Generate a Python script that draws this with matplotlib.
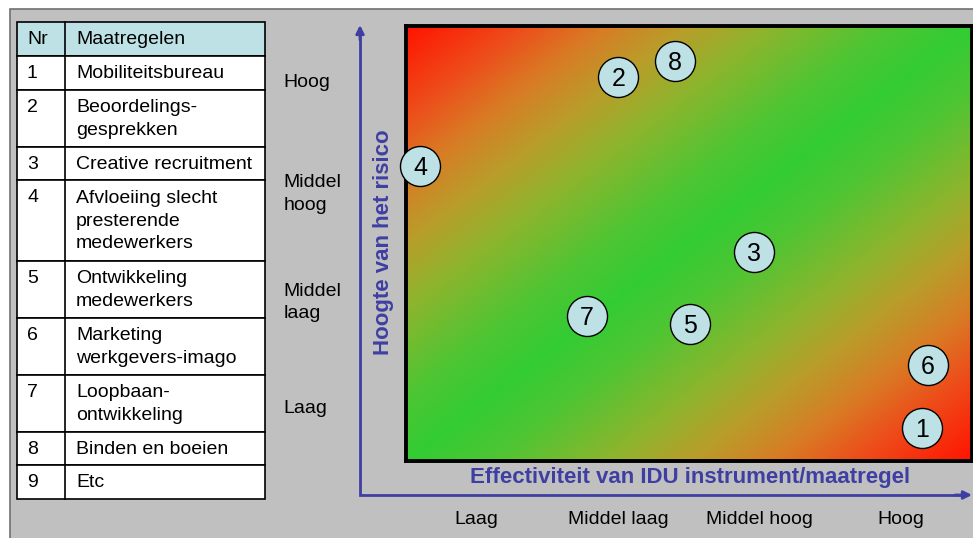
import numpy as np
import matplotlib.pyplot as plt
from matplotlib.colors import LinearSegmentedColormap
from matplotlib.patches import Rectangle

plt.rcParams['font.family'] = ['Liberation Sans', 'DejaVu Sans']

# measures and their scores (effectiveness, risk) on a 0-4 grid
nrs = ['1', '2', '3', '4', '5', '6', '7', '8', '9']
maatregelen = ['Mobiliteitsbureau', 'Beoordelings-\ngesprekken',
               'Creative recruitment',
               'Afvloeiing slecht\npresterende\nmedewerkers',
               'Ontwikkeling\nmedewerkers', 'Marketing\nwerkgevers-imago',
               'Loopbaan-\nontwikkeling', 'Binden en boeien', 'Etc']
punt_nr = ['1', '2', '3', '4', '5', '6', '7', '8']
effectiviteit = [3.65, 1.50, 2.46, 0.10, 2.01, 3.69, 1.28, 1.90]
risico = [0.30, 3.53, 1.92, 2.71, 1.26, 0.88, 1.33, 3.68]

x_labels = ['Laag', 'Middel laag', 'Middel hoog', 'Hoog']
y_labels = ['Laag', 'Middel\nlaag', 'Middel\nhoog', 'Hoog']

blauw = '#3f3fa3'
lichtblauw = '#bde1e5'

W, H = 973, 538
fig = plt.figure(figsize=(W / 100, H / 100), dpi=100)

# background layer in pixel coordinates
bg = fig.add_axes([0, 0, 1, 1], zorder=0)
bg.set_xlim(0, W)
bg.set_ylim(H, 0)
bg.axis('off')
bg.add_patch(Rectangle((10, 9), W, H, facecolor='#c0c0c0',
                       edgecolor='#707070', lw=1.2))

# table with the measures
x0, x1, xc = 17, 265, 65
top = 22
pitch = 23.5
bg.add_patch(Rectangle((x0, top), x1 - x0, 34, facecolor=lichtblauw,
                       edgecolor='black', lw=1.2))
bg.text(27, top + 18, 'Nr', fontsize=14, va='center')
bg.text(76, top + 18, 'Maatregelen', fontsize=14, va='center')
y = top + 34
for nr, m in zip(nrs, maatregelen):
    n = m.count('\n') + 1
    h = 10 + pitch * n
    bg.add_patch(Rectangle((x0, y), x1 - x0, h, facecolor='white',
                           edgecolor='black', lw=1.2))
    bg.text(27, y + h / 2 - (n - 1) * pitch / 2 + 1, nr, fontsize=14,
            va='center')
    bg.text(76, y + h / 2 + 1, m, fontsize=14, va='center', linespacing=1.42)
    y += h
bg.plot([xc, xc], [top, y], color='black', lw=1.2)

# axis arrows
bg.plot([360, 360, 962], [30, 495, 495], color=blauw, lw=2,
        solid_joinstyle='miter')
bg.annotate('', xy=(360, 25), xytext=(360, 40),
            arrowprops=dict(arrowstyle='-|>', color=blauw, lw=2,
                            mutation_scale=12, shrinkA=0, shrinkB=0))
bg.annotate('', xy=(972, 495), xytext=(955, 495),
            arrowprops=dict(arrowstyle='-|>', color=blauw, lw=2,
                            mutation_scale=12, shrinkA=0, shrinkB=0))
bg.text(690, 477, 'Effectiviteit van IDU instrument/maatregel',
        fontsize=16, fontweight='bold', color=blauw, ha='center', va='center')
bg.text(383, 242, 'Hoogte van het risico', fontsize=16, fontweight='bold',
        color=blauw, ha='center', va='center', rotation=90)

# risk matrix: green along the diagonal, red towards the corners
ax = fig.add_axes([406 / W, (H - 461) / H, 566 / W, 435 / H], zorder=1)
cmap = LinearSegmentedColormap.from_list('rgr', [
    (0.0, '#33cc33'), (0.15, '#4fc533'), (0.35, '#8cb52d'),
    (0.5, '#b89e2a'), (0.65, '#d87c25'), (0.8, '#ee4c1a'),
    (1.0, '#ff1400')])
u, v = np.meshgrid(np.linspace(0, 1, 300), np.linspace(0, 1, 300))
ax.imshow(np.abs(u - v), cmap=cmap, vmin=0, vmax=1, origin='lower',
          extent=(0, 4, 0, 4), aspect='auto', interpolation='bilinear')
ax.set_xlim(0, 4)
ax.set_ylim(0, 4)
for s in ax.spines.values():
    s.set_linewidth(2.8)
    s.set_color('black')

ax.set_xticks(np.arange(4) + 0.5)
ax.set_xticklabels(x_labels, fontsize=14)
ax.set_yticks(np.arange(4) + 0.5)
ax.set_yticklabels(y_labels, fontsize=14, ha='left', linespacing=1.42)
ax.tick_params(axis='x', length=0, pad=36)
ax.tick_params(axis='y', length=0, pad=88)

ax.scatter(effectiviteit, risico, s=830, facecolor=lichtblauw,
           edgecolor='black', linewidth=1, zorder=3, clip_on=False)
for n, xe, yr in zip(punt_nr, effectiviteit, risico):
    ax.annotate(n, (xe, yr), xytext=(0, -1.5), textcoords='offset points',
                fontsize=18, ha='center', va='center', zorder=4)

fig.savefig('out.png', dpi=100)
